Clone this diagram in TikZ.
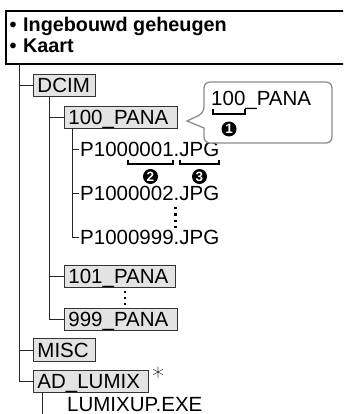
\documentclass[tikz,border=0pt]{standalone}
\usepackage{fontspec}
\setmainfont{Liberation Sans}
\newcommand\fnsize{\fontsize{20.5}{23}\selectfont}
\newcommand\hdsize{\fontsize{19.8}{22}\selectfont}
\begin{document}
\begin{tikzpicture}[x=1pt,y=-1pt,
  tree/.style={line width=1pt, draw=black!85},
  folder/.style={draw=black!80, fill=black!11, line width=0.9pt, inner xsep=4pt, inner ysep=0pt,
    minimum height=22.5pt, anchor=west, font=\fnsize, text height=14.6pt, text depth=0pt, align=left},
  fname/.style={inner sep=0pt, anchor=west, font=\fnsize, text height=14.6pt, text depth=0pt},
  brk/.style={line width=1.5pt, draw=black},
  num/.style={circle, fill=black, text=white, inner sep=0pt, minimum size=15pt, font=\bfseries\fontsize{13.5}{13.5}\selectfont},
  dots/.style={line width=2.3pt, dash pattern=on 2.3pt off 4pt}
]
\useasboundingbox (0,0) rectangle (343,414);
\clip (0,0) rectangle (343,414);
% header
\node[draw, line width=1.8pt, anchor=north west, minimum width=380pt, minimum height=53pt, inner sep=0pt] (hdr) at (5,10) {};
\node[anchor=base west, inner sep=0pt, font=\bfseries\hdsize] (h1) at (9.5,32) {\makebox[13.5pt][l]{\textbullet}Ingebouwd geheugen};
\node[anchor=base west, inner sep=0pt, font=\bfseries\hdsize] (h2) at (9.5,52.5) {\makebox[13.5pt][l]{\textbullet}Kaart};

% folders
\node[folder, text width=54pt] (dcim) at (33,85.5) {DCIM};
\node[folder, text width=105pt] (p100) at (64,117.5) {100\_PANA};
\node[folder, text width=103pt] (p101) at (64,276.5) {101\_PANA};
\node[folder, text width=105pt] (p999) at (64,319.5) {999\_PANA};
\node[folder, text width=54pt] (misc) at (33,350) {MISC};
\node[folder, text width=107pt] (ad) at (33,381.5) {AD\_LUMIX};

% files
\node[fname] (f1) at (80,149.5) {P1000001.JPG};
\node[fname] (f2) at (80,193.5) {P1000002.JPG};
\node[fname] (f3) at (80,237.5) {P1000999.JPG};
\node[fname] (exe) at (67,404.5) {LUMIXUP.EXE};

% tree lines
\coordinate (r0) at (19,63);
\draw[tree] (r0) |- (ad.west);
\draw[tree] (r0 |- dcim.west) -- (dcim.west);
\draw[tree] (r0 |- misc.west) -- (misc.west);
\coordinate (d0) at (49,96.5);
\draw[tree] (d0) |- (p999.west);
\draw[tree] (d0 |- p100.west) -- (p100.west);
\draw[tree] (d0 |- p101.west) -- (p101.west);
\coordinate (g0) at (72,128.5);
\draw[tree] (g0) |- ([xshift=-1.5pt]f3.west);
\draw[tree] (g0 |- f1.west) -- ([xshift=-1.5pt]f1.west);
\draw[tree] (g0 |- f2.west) -- ([xshift=-1.5pt]f2.west);
\coordinate (a0) at (42,392.5);
\coordinate (a1) at (42,420);
\draw[tree] (a0) -- (a1);

% dotted continuations
\coordinate (v1) at (175.5,207);
\coordinate (v2) at (175.5,230);
\draw[dots] (v1) -- (v2);
\coordinate (w1) at (125,290.5);
\coordinate (w2) at (125,308);
\draw[dots] (w1) -- (w2);

% asterisk
\coordinate (ast) at (158,372);
\draw[line width=0.6pt, black!70] ([shift={(0,-5.5)}]ast) -- ([shift={(0,5.5)}]ast)
  ([shift={(-4.8,-2.75)}]ast) -- ([shift={(4.8,2.75)}]ast)
  ([shift={(-4.8,2.75)}]ast) -- ([shift={(4.8,-2.75)}]ast);

% callout
\draw[line width=1.3pt, draw=black!45, fill=white, rounded corners=6pt]
  (204,128) -- (204,143) -- (332,143) -- (332,82) -- (204,82) -- (204,113) [rounded corners=0pt] -- (187,121) -- cycle;
\node[fname] (c100) at (211,98.5) {100\_PANA};
\draw[brk] (213,109.5) -- (213,114) -- (245,114) -- (245,109.5);
\node[num] (n1) at (229,129) {1};

% file-name brackets
\draw[brk] (128,159.5) -- (128,164) -- (173,164) -- (173,159.5);
\draw[brk] (180,159.5) -- (180,164) -- (219,164) -- (219,159.5);
\node[num] (n2) at (150.5,176.5) {2};
\node[num] (n3) at (199.5,176.5) {3};
\end{tikzpicture}
\end{document}
